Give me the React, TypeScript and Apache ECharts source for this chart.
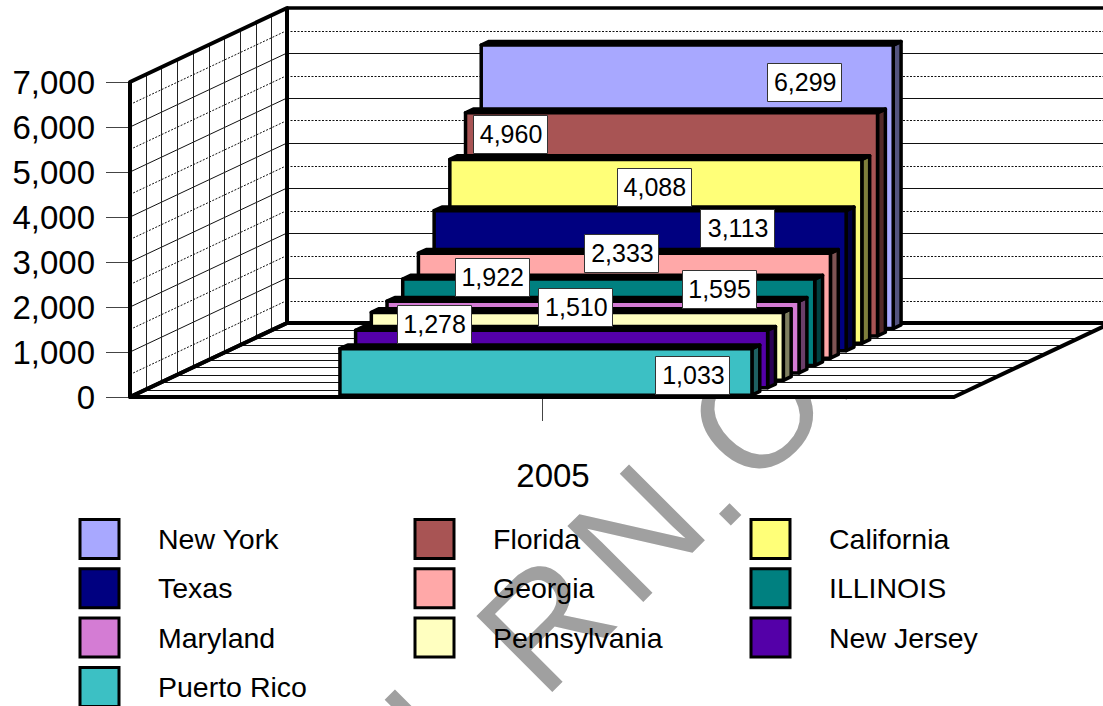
import React, { useEffect, useRef } from "react";
import * as echarts from "echarts";

const year = ["2005"];
const states = ["New York", "Florida", "California", "Texas", "Georgia", "ILLINOIS", "Maryland", "Pennsylvania", "New Jersey", "Puerto Rico"];
const values = [6299, 4960, 4088, 3113, 2333, 1922, 1595, 1510, 1278, 1033];
const colors = ["#A8A8FF", "#A85454", "#FFFF78", "#000080", "#FFA8A8", "#008080", "#D47CD4", "#FFFFC0", "#5400A8", "#3CC0C4"];
const sideColors = ["#54547F", "#542A2A", "#7F7F3C", "#000040", "#7F5454", "#004040", "#6A3E6A", "#7F7F60", "#2A0054", "#1E6062"];
const gridValues = [500, 1000, 1500, 2000, 2500, 3000, 3500, 4000, 4500, 5000, 5500, 6000, 6500, 7000];
const legendColumns = [
  ["New York", "Texas", "Maryland", "Puerto Rico"],
  ["Florida", "Georgia", "Pennsylvania"],
  ["California", "ILLINOIS", "New Jersey"],
];
const legendLefts = [78.5, 413.5, 749.5];
// label box centre, relative to the bar's front-left-top corner
const labelShift = [
  [323, 37], [44.5, 21], [204, 28], [303, 17], [203, 0], [89, -2.5], [331.5, -12.5], [204, -5], [78, -6], [352.5, 26.5],
];
// watermark letters, each placed on its own
const watermark = [
  { ch: "L", x: 444, y: 716 },
  { ch: "R", x: 545, y: 623 },
  { ch: "N", x: 636, y: 533 },
  { ch: ".", x: 698, y: 482 },
  { ch: "O", x: 757, y: 412 },
  { ch: "M", x: 845, y: 325 },
];

const FONT = "Liberation Sans";
const SLOT_DX = 15.7;
const SLOT_DY = 7.4;
const SLOTS = 10;

function poly(points: number[][], fill: string, lineWidth: number, stroke = "#000") {
  return { type: "polygon", shape: { points }, style: { fill, stroke, lineWidth, lineJoin: "round" } };
}
function seg(x1: number, y1: number, x2: number, y2: number, stroke: string, dash?: number[]) {
  return { type: "line", shape: { x1, y1, x2, y2 }, style: { stroke, lineWidth: 1, lineDash: dash } };
}

function renderWalls(_: any, api: any) {
  const [cx, y0] = api.coord([0, 0]);
  const w = api.size([1, 0])[0];
  const top = api.coord([0, 7000])[1];
  const L = cx - w / 2;
  const R = cx + w / 2;
  const DX = SLOT_DX * SLOTS;
  const DY = SLOT_DY * SLOTS;
  const children: any[] = [];
  children.push(poly([[L, top], [L + DX, top - DY], [L + DX, y0 - DY], [L, y0]], "#fff", 0, "none"));
  children.push(poly([[L + DX, top - DY], [R + DX + 40, top - DY], [R + DX + 40, y0 - DY], [L + DX, y0 - DY]], "#fff", 0, "none"));
  children.push(poly([[L, y0], [R, y0], [R + DX, y0 - DY], [L + DX, y0 - DY]], "#fff", 0, "none"));
  gridValues.forEach((v) => {
    const y = api.coord([0, v])[1];
    const solid = v % 1000 === 0;
    const dash = solid ? undefined : [2, 1.5];
    const col = "#111";
    if (v < 7000) {
      children.push(seg(L, y, L + DX, y - DY, col, dash));
      children.push(seg(L + DX, Math.round(y - DY) + 0.5, R + DX + 40, Math.round(y - DY) + 0.5, col, dash));
    }
  });
  for (let k = 1; k < SLOTS; k++) {
    const x = Math.round(L + SLOT_DX * k) + 0.5;
    const y = y0 - SLOT_DY * k;
    children.push(seg(x, y, x, top - SLOT_DY * k, "#222"));
    const fy = Math.round(y) + 0.5;
    children.push(seg(L + SLOT_DX * k, fy, R + SLOT_DX * k, fy, "#111"));
  }
  children.push(poly([[L, top], [L + DX, top - DY], [L + DX, y0 - DY], [L, y0]], "none", 4));
  const topLine = seg(L + DX, top - DY, R + DX + 40, top - DY, "#000");
  topLine.style.lineWidth = 3.5;
  children.push(topLine);
  children.push(poly([[L, y0], [R, y0], [R + DX, y0 - DY], [L + DX, y0 - DY]], "none", 4));
  return { type: "group", children };
}

function barGeom(index: number, value: number, api: any) {
  const depth = SLOTS - 1 - index;
  const [cx, y0] = api.coord([0, 0]);
  const yv = api.coord([0, value])[1];
  const bw = api.size([1, 0])[0] / 2;
  const ox = SLOT_DX * (depth + 0.25);
  const oy = SLOT_DY * (depth + 0.25);
  const l = cx - bw / 2 + ox;
  return { l, r: l + bw, b: y0 - oy, t: yv - oy };
}

function renderBar(index: number) {
  return (_: any, api: any) => {
    const { l, r, b, t } = barGeom(index, api.value(1), api);
    const dx = SLOT_DX / 2;
    const dy = SLOT_DY / 2;
    return {
      type: "group",
      children: [
        poly([[r, b], [r + dx, b - dy], [r + dx, t - dy], [r, t]], sideColors[index], 3.5),
        poly([[l, t], [r, t], [r + dx, t - dy], [l + dx, t - dy]], "#000", 3.5),
        poly([[l, t], [r, t], [r, b], [l, b]], colors[index], 3.5),
      ],
    };
  };
}

function renderLabel(params: any, api: any) {
  const index = params.dataIndex;
  const value = api.value(1);
  const { l, t } = barGeom(index, value, api);
  const [sx, sy] = labelShift[index];
  const bx = l + sx;
  const by = t + sy;
  return {
    type: "group",
    children: [
      {
        type: "rect",
        shape: { x: Math.round(bx - 37) + 0.5, y: Math.round(by - 19) + 0.5, width: 74, height: 38 },
        style: { fill: "#fff", stroke: "#333", lineWidth: 1 },
      },
      {
        type: "text",
        style: {
          x: bx + 1,
          y: by,
          text: value.toLocaleString("en-US"),
          align: "center",
          verticalAlign: "middle",
          fontFamily: FONT,
          fontSize: 25,
          fill: "#000",
        },
      },
    ],
  };
}

export default function App() {
  const ref = useRef<HTMLDivElement>(null);
  useEffect(() => {
    const chart = echarts.init(ref.current!, undefined, { renderer: "svg" });
    chart.setOption({
      animation: false,
      backgroundColor: "#fff",
      grid: { left: 130, top: 82, width: 824, height: 315, containLabel: false },
      xAxis: {
        type: "category",
        data: year,
        axisLine: { show: true, lineStyle: { color: "#444" } },
        axisTick: { show: true, length: 24, alignWithLabel: true, lineStyle: { color: "#444" } },
        axisLabel: { fontFamily: FONT, fontSize: 33, color: "#000", margin: 62, padding: [0, 0, 0, 22] },
        splitLine: { show: false },
      },
      yAxis: {
        type: "value",
        min: 0,
        max: 7000,
        interval: 1000,
        axisLine: { show: true, lineStyle: { color: "#444" } },
        axisTick: { show: true, length: 24, lineStyle: { color: "#444" } },
        axisLabel: {
          fontFamily: FONT,
          fontSize: 33,
          color: "#000",
          margin: 35,
          padding: [0, 0, 2, 0],
          formatter: (v: number) => v.toLocaleString("en-US"),
        },
        splitLine: { show: false },
      },
      legend: legendColumns.map((data, i) => ({
        data,
        orient: "vertical",
        left: legendLefts[i],
        top: 518,
        height: 400,
        padding: 0,
        icon: "rect",
        itemWidth: 39,
        itemHeight: 39,
        itemGap: 7.3,
        selectedMode: false,
        itemStyle: { borderColor: "#000", borderWidth: 3 },
        textStyle: { fontFamily: FONT, fontSize: 28.5, color: "#000", padding: [0, 0, 2, 34] },
      })),
      graphic: watermark.map((w) => ({
        type: "text",
        z: 0,
        x: w.x,
        y: w.y,
        rotation: Math.PI / 4,
        silent: true,
        style: {
          text: w.ch,
          align: "center",
          verticalAlign: "middle",
          fontFamily: FONT,
          fontSize: 156,
          fill: "#a0a0a0",
        },
      })),
      series: [
        {
          type: "custom",
          name: "walls",
          silent: true,
          z: 2,
          coordinateSystem: "cartesian2d",
          data: [[0, 0]],
          renderItem: renderWalls,
        },
        ...states.map((name, i) => ({
          type: "custom",
          name,
          z: 3 + i,
          silent: true,
          coordinateSystem: "cartesian2d",
          itemStyle: { color: colors[i] },
          encode: { x: 0, y: 1 },
          data: [[0, values[i]]],
          renderItem: renderBar(i),
        })),
        {
          type: "custom",
          name: "labels",
          z: 20,
          silent: true,
          coordinateSystem: "cartesian2d",
          encode: { x: 0, y: 1 },
          data: values.map((v) => [0, v]),
          renderItem: renderLabel,
        },
      ],
    });
    return () => chart.dispose();
  }, []);
  return <div ref={ref} style={{ position: "absolute", left: 0, top: 0, width: 1103, height: 706, overflow: "hidden" }} />;
}
